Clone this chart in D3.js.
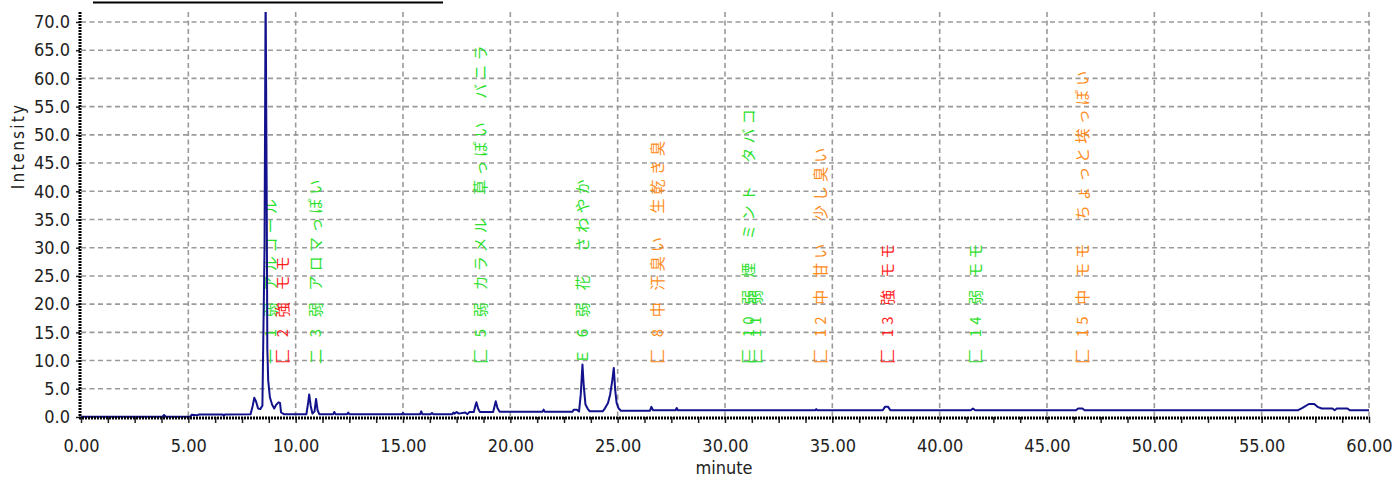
<!DOCTYPE html>
<html>
<head>
<meta charset="utf-8">
<script src="https://cdn.jsdelivr.net/npm/d3@7"></script>
<style>
  body { margin: 0; background: #fff; }
  svg { display: block; }
</style>
</head>
<body>
<div id="chart"></div>
<script>
// Trace: retention time (minute) and intensity
var traceTime = [0, 3.8, 3.87, 3.95, 5.1, 5.15, 5.4, 5.5, 6.6, 6.65, 6.7, 7.9, 8.0, 8.07, 8.15, 8.25, 8.35, 8.45,
    8.55, 8.6, 8.65, 8.68, 8.72, 8.8, 8.9, 9.0, 9.1, 9.2, 9.27, 9.32, 9.45,
    10.5, 10.58, 10.63, 10.7, 10.78, 10.88, 10.95, 11.02, 11.1, 11.75, 11.8, 11.85, 12.4, 12.45, 12.5,
    14.95, 15.0, 15.05, 15.8, 15.85, 15.9, 16.3, 16.35, 16.4, 17.3, 17.35, 17.4, 17.5, 17.6, 17.9, 18.0, 18.1,
    18.3, 18.37, 18.42, 18.5, 18.58, 19.2, 19.27, 19.32, 19.4, 19.5, 21.5, 21.55, 21.6,
    22.9, 22.95, 23.1, 23.2, 23.28, 23.36, 23.42, 23.5, 23.6, 23.7, 24.3, 24.4, 24.55, 24.65, 24.75, 24.82,
    24.88, 24.95, 25.05, 25.15, 26.5, 26.57, 26.65, 27.7, 27.75, 27.8, 34.2, 34.25, 34.3,
    37.35, 37.45, 37.6, 37.7, 41.45, 41.55, 41.65, 46.35, 46.45, 46.65, 46.75,
    56.7, 56.9, 57.2, 57.45, 57.6, 57.8, 58.3, 58.4, 58.5, 59.0, 59.1, 60];
var traceValue = [0.05, 0.05, 0.35, 0.05, 0.05, 0.4, 0.3, 0.45, 0.45, 0.2, 0.45, 0.5, 2.0, 3.4, 2.8, 1.5, 1.4, 2.0,
    30, 76, 40, 12, 6.5, 3.5, 2.2, 1.5, 2.2, 2.6, 2.5, 0.8, 0.5,
    0.5, 2.5, 4.0, 2.0, 0.6, 1.0, 3.2, 1.2, 0.5, 0.5, 0.9, 0.5, 0.5, 0.8, 0.5,
    0.5, 0.7, 0.5, 0.5, 1.0, 0.5, 0.5, 0.7, 0.5, 0.5, 0.8, 0.6, 0.9, 0.6, 0.8, 0.5, 0.9,
    0.9, 2.0, 2.6, 1.5, 0.9, 0.9, 2.0, 2.8, 1.6, 0.95, 0.95, 1.3, 0.95,
    0.95, 1.3, 1.3, 0.95, 4.0, 9.3, 5.5, 2.2, 1.5, 1.0, 1.0, 1.5, 2.5, 4.0, 6.5, 8.7,
    5.0, 2.5, 1.5, 1.1, 1.1, 1.8, 1.2, 1.2, 1.6, 1.2, 1.2, 1.4, 1.2,
    1.2, 1.8, 1.8, 1.2, 1.2, 1.5, 1.2, 1.2, 1.5, 1.5, 1.2,
    1.2, 1.6, 2.3, 2.3, 1.8, 1.5, 1.5, 1.2, 1.5, 1.5, 1.2, 1.2];

// Odour notes for each peak
var labelIds = ["1", "2", "3", "5", "6", "8", "10", "11", "12", "13", "14", "15"];
var labelMarks = ["一", "匚", "二", "匚", "Ｅ", "匚", "匚", "匚", "匚", "匚", "匚", "匚"];
var labelTimes = [8.8, 9.36, 10.88, 18.58, 23.33, 26.83, 31.07, 31.39, 34.42, 37.54, 41.64, 46.62];
var labelLevels = ["弱", "強", "弱", "弱", "弱", "中", "弱", "弱", "中", "強", "弱", "中"];
var labelNotes = ["アルコール", "モモ", "アロマっぽい", "カラメル　草っぽい　バニラ", "花　さわやか",
    "汗臭い　生乾き臭", "煙　ミント　タバコ", "", "甘い　少し臭い", "モモ", "モモ", "モモ　ちょっと埃っぽい"];

var levelColors = {"強": "#ff1f1f", "中": "#ff8c1a", "弱": "#2ee02e"};

var xGrid = d3.range(5, 60.001, 5);
var xMinor = d3.range(0, 60.001, 1.25);
var yTicks = d3.range(0, 70.001, 5);

var W = 1393, H = 480;
var plotLeft = 81, plotRight = 1369, plotTop = 12, plotBottom = 417;

var svg = d3.select("#chart").append("svg")
    .attr("width", W)
    .attr("height", H);

var x = d3.scaleLinear().domain([0, 60]).range([plotLeft, plotRight]);
var y = d3.scaleLinear().domain([0, (plotBottom - plotTop) / 5.643]).range([plotBottom, plotTop]);

// cut-off title above the plot
svg.append("line")
    .attr("x1", 93).attr("x2", 443)
    .attr("y1", 2.5).attr("y2", 2.5)
    .style("stroke", "#000")
    .style("stroke-width", 2);

// Grid
svg.append("g").selectAll("line")
    .data(yTicks.filter(function(d) { return d > 0; }))
    .enter().append("line")
    .attr("x1", plotLeft).attr("x2", plotRight)
    .attr("y1", function(d) { return y(d); })
    .attr("y2", function(d) { return y(d); })
    .style("stroke", "#9a9a9a")
    .style("stroke-width", 1.6)
    .style("stroke-dasharray", "5,3.5");

svg.append("g").selectAll("line")
    .data(xGrid)
    .enter().append("line")
    .attr("x1", function(d) { return x(d); })
    .attr("x2", function(d) { return x(d); })
    .attr("y1", plotTop).attr("y2", plotBottom)
    .style("stroke", "#9a9a9a")
    .style("stroke-width", 1.6)
    .style("stroke-dasharray", "5,3.5");

// Labels
var labels = svg.append("g");
labelIds.forEach(function(id, i) {
    var txt = labelMarks[i] + " " + id + " " + labelLevels[i] + (labelNotes[i] ? " " + labelNotes[i] : "");
    labels.append("text")
        .attr("transform", "translate(" + x(labelTimes[i]) + "," + 364 + ") rotate(-90)")
        .attr("dominant-baseline", "central")
        .style("font-family", "'Noto Sans CJK JP', sans-serif")
        .style("font-size", "15px")
        .style("letter-spacing", "4.2px")
        .style("fill", levelColors[labelLevels[i]])
        .text(txt);
});

// Trace
svg.append("defs").append("clipPath")
    .attr("id", "clip")
    .append("rect")
    .attr("x", plotLeft).attr("y", plotTop)
    .attr("width", plotRight - plotLeft).attr("height", plotBottom - plotTop + 2);

var line = d3.line()
    .x(function(d, i) { return x(traceTime[i]); })
    .y(function(d) { return y(d); });

svg.append("path")
    .attr("clip-path", "url(#clip)")
    .attr("d", line(traceValue))
    .style("fill", "none")
    .style("stroke", "#12128c")
    .style("stroke-width", 2)
    .style("stroke-linejoin", "round");

// Axes
var axisFont = "'DejaVu Sans Condensed', 'DejaVu Sans', sans-serif";

var xAxis = svg.append("g")
    .attr("transform", "translate(0," + plotBottom + ")")
    .call(d3.axisBottom(x)
        .tickValues(xMinor)
        .tickSize(6)
        .tickPadding(16)
        .tickFormat(function(d) { return d % 5 === 0 ? d3.format(".2f")(d) : ""; }));
xAxis.select(".domain").remove();
xAxis.selectAll("line").style("stroke", "#222").style("stroke-width", 1.5);
xAxis.selectAll("text")
    .style("font-family", axisFont)
    .style("font-size", "18px")
    .style("fill", "#222");

var yAxis = svg.append("g")
    .attr("transform", "translate(80,0)")
    .call(d3.axisLeft(y)
        .tickValues(yTicks)
        .tickSize(4)
        .tickPadding(6)
        .tickFormat(d3.format(".1f")));
yAxis.select(".domain").remove();
yAxis.selectAll("line").style("stroke", "#222").style("stroke-width", 1.5);
yAxis.selectAll("text")
    .style("font-family", axisFont)
    .style("font-size", "18px")
    .style("fill", "#222");

// thick dotted axis lines
svg.append("line")
    .attr("x1", 80).attr("x2", 80)
    .attr("y1", plotTop).attr("y2", plotBottom + 1)
    .style("stroke", "#000").style("stroke-width", 3)
    .style("stroke-dasharray", "2,1");
svg.append("line")
    .attr("x1", 79).attr("x2", plotRight + 1)
    .attr("y1", plotBottom + 1).attr("y2", plotBottom + 1)
    .style("stroke", "#000").style("stroke-width", 3)
    .style("stroke-dasharray", "2,1");

// Axis titles
svg.append("text")
    .attr("transform", "translate(18,146) rotate(-90)")
    .attr("text-anchor", "middle")
    .attr("dominant-baseline", "central")
    .style("font-family", axisFont)
    .style("font-size", "17px")
    .style("letter-spacing", "2.2px")
    .style("fill", "#222")
    .text("Intensity");

svg.append("text")
    .attr("x", 724)
    .attr("y", 474)
    .attr("text-anchor", "middle")
    .style("font-family", axisFont)
    .style("font-size", "18px")
    .style("fill", "#222")
    .text("minute");
</script>
</body>
</html>
